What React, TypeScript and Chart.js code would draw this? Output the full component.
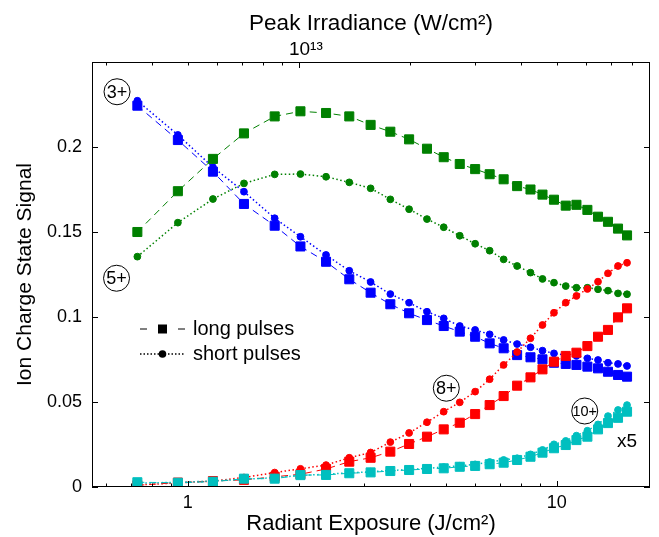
import React, { useEffect, useRef } from 'react';
import { Chart, registerables } from 'chart.js';

Chart.register(...registerables);

// ---------- data ----------
const exposure = [0.73, 0.94, 1.17, 1.42, 1.72, 2.02, 2.37, 2.74, 3.13, 3.54, 3.98, 4.45, 4.94, 5.46, 6.01, 6.58, 7.18, 7.81, 8.49, 9.15, 9.83, 10.58, 11.31, 12.11, 12.94, 13.77, 14.66, 15.51];

const ion3Long = [0.2243, 0.2041, 0.1855, 0.1665, 0.1537, 0.1415, 0.1325, 0.1222, 0.1143, 0.1075, 0.1022, 0.0982, 0.0947, 0.0914, 0.0884, 0.0845, 0.0816, 0.0776, 0.0763, 0.0751, 0.0731, 0.0724, 0.0718, 0.0708, 0.0698, 0.0678, 0.0659, 0.0649];
const ion3Short = [0.2272, 0.2071, 0.1881, 0.1737, 0.1581, 0.1472, 0.1365, 0.1272, 0.1206, 0.1135, 0.1084, 0.1031, 0.0992, 0.0947, 0.0924, 0.0898, 0.0865, 0.0841, 0.0822, 0.0802, 0.0786, 0.0776, 0.0771, 0.0757, 0.0747, 0.0731, 0.0724, 0.0712];

const ion5Long = [0.150, 0.174, 0.193, 0.208, 0.218, 0.221, 0.220, 0.218, 0.213, 0.209, 0.2045, 0.199, 0.194, 0.190, 0.187, 0.184, 0.181, 0.177, 0.175, 0.172, 0.169, 0.1655, 0.166, 0.163, 0.159, 0.156, 0.152, 0.148];
const ion5Short = [0.1355, 0.1555, 0.1694, 0.1786, 0.1839, 0.1841, 0.1825, 0.1792, 0.1757, 0.1692, 0.1634, 0.1576, 0.1528, 0.1478, 0.1431, 0.139, 0.1339, 0.13, 0.1261, 0.1224, 0.1202, 0.1182, 0.1172, 0.1172, 0.1163, 0.1155, 0.1139, 0.1134];

const ion8Long = [0.001, 0.0026, 0.0035, 0.0042, 0.006, 0.0075, 0.0106, 0.0149, 0.0172, 0.0208, 0.0253, 0.0296, 0.0339, 0.0378, 0.0429, 0.0482, 0.0535, 0.0596, 0.0645, 0.0692, 0.0737, 0.0771, 0.079, 0.0829, 0.0884, 0.0924, 0.0998, 0.1051];
const ion8Short = [0.0012, 0.0024, 0.0035, 0.0056, 0.0085, 0.0107, 0.0129, 0.0172, 0.0203, 0.0264, 0.0318, 0.0381, 0.0443, 0.0498, 0.0561, 0.0634, 0.0718, 0.0794, 0.0875, 0.0953, 0.1025, 0.1084, 0.1124, 0.1165, 0.1208, 0.1257, 0.13, 0.1319];

const ion10Long = [0.0028, 0.0025, 0.0031, 0.0049, 0.0049, 0.007, 0.0071, 0.0081, 0.0086, 0.0094, 0.01, 0.0106, 0.011, 0.0119, 0.0124, 0.0134, 0.0143, 0.0159, 0.0178, 0.0202, 0.0228, 0.0247, 0.0276, 0.0296, 0.0339, 0.0376, 0.0407, 0.0443];
const ion10Short = [0.0022, 0.0028, 0.0035, 0.0045, 0.0055, 0.0068, 0.0075, 0.0083, 0.009, 0.0097, 0.0103, 0.011, 0.0117, 0.0125, 0.0133, 0.0147, 0.0159, 0.0169, 0.0192, 0.0218, 0.0251, 0.0271, 0.0302, 0.0331, 0.0368, 0.0417, 0.0453, 0.0482];

// axis ranges / ticks
const xMin = 0.55;
const xMax = 17.9;
const irradiancePerExposure = 5e12; // W/cm^2 per J/cm^2
const yMin = 0;
const yMax = 0.25;
const yTickValues = [0, 0.05, 0.1, 0.15, 0.2];
const xMajorTicks = [1, 10];
const xMinorTicks = [0.6, 0.7, 0.8, 0.9, 2, 3, 4, 5, 6, 7, 8, 9];
const topMajorTicks = [1e13];
const topMinorTicks = [3e12, 4e12, 5e12, 6e12, 7e12, 8e12, 9e12, 2e13, 3e13, 4e13, 5e13, 6e13, 7e13, 8e13, 9e13];

// annotations (data coordinates)
const noteTexts = ['3+', '5+', '8+', '10+', 'x5'];
const noteX = [0.643, 0.641, 5.02, 11.91, 15.5];
const noteY = [0.2325, 0.1228, 0.0581, 0.0447, 0.0271];
const noteCircled = [true, true, true, true, false];

const FONT = '"Liberation Sans", Arial, Helvetica, sans-serif';

const BLUE = '#0000ff';
const GREEN = '#008000';
const RED = '#ff0000';
const CYAN = '#00bfbf';

const pts = (arr: number[]) => exposure.map((x, i) => ({ x, y: arr[i] }));

function longSet(label: string, arr: number[], color: string, order: number) {
  return {
    label,
    data: pts(arr),
    borderColor: color,
    backgroundColor: color,
    borderWidth: 1,
    borderDash: [7, 5],
    pointStyle: 'rect',
    pointRadius: 6.4,
    pointBorderWidth: 1,
    pointBorderColor: color,
    pointBackgroundColor: color,
    tension: 0,
    order,
  };
}

function shortSet(label: string, arr: number[], color: string, order: number) {
  return {
    label,
    data: pts(arr),
    borderColor: color,
    backgroundColor: color,
    borderWidth: 1.5,
    borderDash: [1.5, 2.5],
    pointStyle: 'circle',
    pointRadius: 3.4,
    pointBorderWidth: 1,
    pointBorderColor: color,
    pointBackgroundColor: color,
    tension: 0,
    order,
  };
}

const decorPlugin = {
  id: 'decor',
  afterDraw(chart: any) {
    const { ctx, chartArea: a, scales } = chart;
    const xs = scales.x;
    const xt = scales.x2;
    const ys = scales.y;
    ctx.save();
    ctx.strokeStyle = '#000';
    ctx.lineWidth = 1;
    // frame
    ctx.strokeRect(a.left + 0.5, a.top + 0.5, a.right - a.left - 1, a.bottom - a.top - 1);
    const major = 6;
    const minor = 3.5;
    ctx.beginPath();
    yTickValues.forEach((v) => {
      const p = Math.round(ys.getPixelForValue(v)) + 0.5;
      ctx.moveTo(a.left, p); ctx.lineTo(a.left + major, p);
      ctx.moveTo(a.right, p); ctx.lineTo(a.right - major, p);
    });
    const vTick = (scale: any, v: number, len: number, atBottom: boolean) => {
      if (v < scale.min || v > scale.max) return;
      const p = Math.round(scale.getPixelForValue(v)) + 0.5;
      if (atBottom) { ctx.moveTo(p, a.bottom); ctx.lineTo(p, a.bottom - len); }
      else { ctx.moveTo(p, a.top); ctx.lineTo(p, a.top + len); }
    };
    xMajorTicks.forEach((v) => vTick(xs, v, major, true));
    xMinorTicks.forEach((v) => vTick(xs, v, minor, true));
    topMajorTicks.forEach((v) => vTick(xt, v, major, false));
    topMinorTicks.forEach((v) => vTick(xt, v, minor, false));
    ctx.stroke();

    // annotations
    noteTexts.forEach((t, i) => {
      const px = xs.getPixelForValue(noteX[i]);
      const py = ys.getPixelForValue(noteY[i]);
      ctx.fillStyle = '#000';
      ctx.textAlign = 'center';
      ctx.textBaseline = 'middle';
      if (noteCircled[i]) {
        ctx.beginPath();
        ctx.arc(px, py, 13, 0, Math.PI * 2);
        ctx.stroke();
        ctx.font = `${t.length > 2 ? 14.5 : 18}px ${FONT}`;
        ctx.fillText(t, px, py + 1);
      } else {
        ctx.font = `19px ${FONT}`;
        ctx.fillText(t, px, py + 1);
      }
    });

    // legend
    const lx = a.left + 48;
    const ly1 = a.top + 267;
    const ly2 = a.top + 292;
    ctx.strokeStyle = '#000';
    ctx.fillStyle = '#000';
    ctx.lineWidth = 1;
    ctx.beginPath();
    ctx.moveTo(lx, ly1); ctx.lineTo(lx + 7, ly1);
    ctx.moveTo(lx + 38, ly1); ctx.lineTo(lx + 45, ly1);
    ctx.stroke();
    ctx.fillRect(lx + 18, ly1 - 4.5, 9, 9);
    ctx.setLineDash([1.5, 2]);
    ctx.lineWidth = 1.3;
    ctx.beginPath();
    ctx.moveTo(lx, ly2); ctx.lineTo(lx + 45, ly2);
    ctx.stroke();
    ctx.setLineDash([]);
    ctx.beginPath();
    ctx.arc(lx + 22.5, ly2, 3.8, 0, Math.PI * 2);
    ctx.fill();
    ctx.font = `20px ${FONT}`;
    ctx.textAlign = 'left';
    ctx.textBaseline = 'middle';
    ctx.fillText('long pulses', lx + 53, ly1);
    ctx.fillText('short pulses', lx + 53, ly2);
    ctx.restore();
  },
};

export default function App() {
  const ref = useRef<HTMLCanvasElement | null>(null);

  useEffect(() => {
    if (!ref.current) return;
    const chart = new Chart(ref.current, {
      type: 'line',
      data: {
        datasets: [
          shortSet('3+ short', ion3Short, BLUE, 6),
          longSet('3+ long', ion3Long, BLUE, 5),
          shortSet('5+ short', ion5Short, GREEN, 6),
          longSet('5+ long', ion5Long, GREEN, 5),
          shortSet('8+ short', ion8Short, RED, 4),
          longSet('8+ long', ion8Long, RED, 3),
          shortSet('10+ short (x5)', ion10Short, CYAN, 2),
          longSet('10+ long (x5)', ion10Long, CYAN, 1),
        ] as any,
      },
      options: {
        animation: false,
        responsive: false,
        devicePixelRatio: 1,
        layout: { padding: { left: 0, right: 9, top: 0, bottom: 0 } },
        plugins: {
          legend: { display: false },
          tooltip: { enabled: false },
        },
        scales: {
          x: {
            type: 'logarithmic',
            position: 'bottom',
            min: xMin,
            max: xMax,
            afterBuildTicks: (s: any) => { s.ticks = xMajorTicks.map((v) => ({ value: v })); },
            afterFit: (s: any) => { s.height = 50; },
            ticks: {
              callback: (v: any) => String(v),
              color: '#000',
              font: { family: FONT, size: 18 },
              padding: 5,
              maxRotation: 0,
              autoSkip: false,
            },
            grid: { display: false, drawTicks: false },
            border: { display: false },
            title: {
              display: true,
              text: 'Radiant Exposure (J/cm²)',
              color: '#000',
              font: { family: FONT, size: 22 },
              padding: { top: 0, bottom: 0 },
            },
          },
          x2: {
            type: 'logarithmic',
            position: 'top',
            min: xMin * irradiancePerExposure,
            max: xMax * irradiancePerExposure,
            afterBuildTicks: (s: any) => { s.ticks = topMajorTicks.map((v) => ({ value: v })); },
            afterFit: (s: any) => { s.height = 62; },
            ticks: {
              callback: () => '10¹³',
              color: '#000',
              font: { family: FONT, size: 19 },
              padding: 1,
              labelOffset: 7,
              maxRotation: 0,
              autoSkip: false,
            },
            grid: { display: false, drawTicks: false },
            border: { display: false },
            title: {
              display: true,
              text: 'Peak Irradiance (W/cm²)',
              color: '#000',
              font: { family: FONT, size: 22.5 },
              padding: { top: 10, bottom: 0 },
            },
          },
          y: {
            type: 'linear',
            position: 'left',
            min: yMin,
            max: yMax,
            afterBuildTicks: (s: any) => { s.ticks = yTickValues.map((v) => ({ value: v })); },
            afterFit: (s: any) => { s.width = 92; },
            ticks: {
              callback: (v: any) => String(v),
              color: '#000',
              font: { family: FONT, size: 18 },
              padding: 10,
            },
            grid: { display: false, drawTicks: false },
            border: { display: false },
            title: {
              display: true,
              text: 'Ion Charge State Signal',
              color: '#000',
              font: { family: FONT, size: 21 },
              padding: { top: 13, bottom: 0 },
            },
          },
        },
      } as any,
      plugins: [decorPlugin],
    });
    return () => chart.destroy();
  }, []);

  return (
    <div style={{ position: 'fixed', left: 0, top: 0, width: 659, height: 537, background: '#fff' }}>
      <canvas ref={ref} width={659} height={537} style={{ display: 'block' }} />
    </div>
  );
}
